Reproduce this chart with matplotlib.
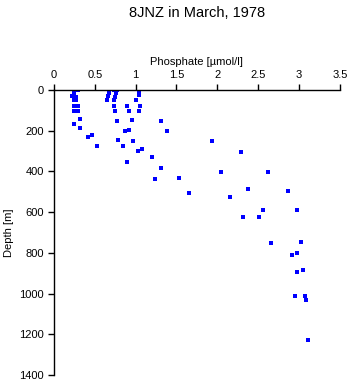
import matplotlib
matplotlib.use("Agg")
import matplotlib.pyplot as plt

# phosphate [umol/l] vs depth [m]
phosphate = [0.29, 0.25, 0.24, 0.22, 0.27, 0.24, 0.27, 0.24, 0.29, 0.25, 0.27, 0.30,
             0.32, 0.25, 0.32, 0.42, 0.47, 0.53,
             0.73, 0.77, 0.68, 0.76, 0.66, 0.75, 0.65, 0.73, 0.74, 0.89, 0.75, 0.92,
             0.77, 0.95, 0.87, 0.92, 0.78, 0.97, 0.85, 1.03, 1.08, 0.89,
             1.04, 1.04, 1.04, 1.04, 1.01, 1.05, 1.04,
             1.31, 1.39, 1.20, 1.31, 1.24, 1.53, 1.65, 1.93, 2.29, 2.05, 2.62, 2.38,
             2.86, 2.15, 2.56, 2.97, 2.32, 2.51, 2.66, 3.02, 2.91, 2.98, 2.97, 3.05,
             2.95, 3.07, 3.08, 3.11]
depth = [0, 8, 16, 30, 33, 52, 52, 77, 77, 105, 105, 105,
         143, 170, 188, 232, 224, 275,
         0, 0, 13, 16, 30, 33, 52, 52, 77, 77, 105, 105,
         151, 148, 200, 198, 244, 252, 278, 301, 291, 354,
         0, 8, 16, 25, 52, 77, 103,
         152, 201, 331, 385, 436, 431, 505, 252, 306, 405, 405, 487,
         498, 527, 591, 591, 626, 624, 753, 749, 812, 803, 893, 885,
         1011, 1014, 1034, 1230]

xticks = [0, 0.5, 1, 1.5, 2, 2.5, 3, 3.5]
xticklabels = ["0", "0.5", "1", "1.5", "2", "2.5", "3", "3.5"]
yticks = [0, 200, 400, 600, 800, 1000, 1200, 1400]

plt.rcParams['font.family'] = ['Liberation Sans', 'DejaVu Sans']

fig = plt.figure(figsize=(3.5, 3.84), dpi=100)
ax = fig.add_axes([0.154, 0.0234, 0.817, 0.7426])

ax.plot(phosphate, depth, linestyle='none', marker='s', markersize=2.2,
        color=(0, 0, 1), markeredgewidth=0)

ax.set_xlim(0, 3.5)
ax.set_ylim(1400, 0)
ax.xaxis.tick_top()
ax.xaxis.set_label_position('top')
ax.set_xticks(xticks)
ax.set_xticklabels(xticklabels)
ax.set_yticks(yticks)
ax.tick_params(direction='out', length=4, width=1, labelsize=8, pad=3)
ax.set_xlabel("Phosphate [\u00b5mol/l]", fontsize=8, labelpad=4)
ax.set_ylabel("Depth [m]", fontsize=8, labelpad=4)

for side in ['right', 'bottom']:
    ax.spines[side].set_visible(False)
for side in ['top', 'left']:
    ax.spines[side].set_linewidth(1)

fig.text(0.563, 0.965, "8JNZ in March, 1978", ha='center', va='center', fontsize=10.5)

fig.savefig("out.png", dpi=100)
